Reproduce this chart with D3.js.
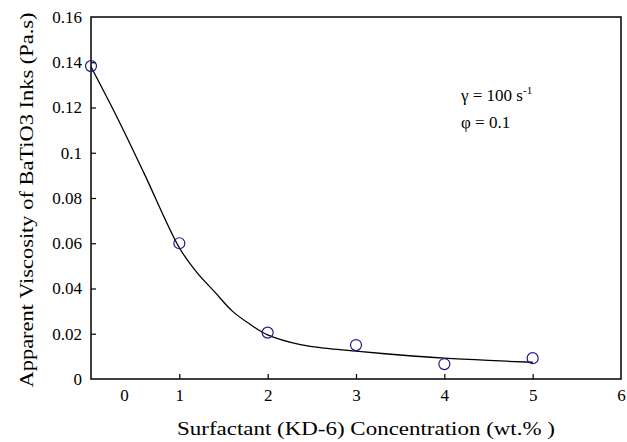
<!DOCTYPE html>
<html lang="en">
<head>
	<meta charset="utf-8">
	<title>viscosity vs surfactant</title>
	<script src="https://d3js.org/d3.v7.min.js"></script>
	<style type="text/css">
		body { margin: 0; background: #fff; }
		.Axis path { display: none; }
		.Axis line { stroke: #000; stroke-width: 1.2; }
	</style>
</head>
<body>
	<svg id="placeholder1"></svg>

	<script type="text/javascript">
		// measured points
		var concentration = [0, 1, 2, 3, 4, 5]
		var viscosity = [0.1383, 0.0600, 0.0205, 0.0150, 0.0066, 0.0092]

		// fitted curve
		var fitX = [0, 0.31, 0.6, 1.0, 1.2, 1.4, 1.6, 1.8, 2.0, 2.37, 2.7, 3.0, 3.5, 4.0, 4.5, 5.0]
		var fitY = [0.138, 0.1145, 0.091, 0.058, 0.047, 0.0385, 0.030, 0.0242, 0.0195, 0.0152, 0.0134, 0.0123, 0.0106, 0.0092, 0.0082, 0.0074]

		var xTicks = [0, 1, 2, 3, 4, 5, 6]
		var yTicks = [0, 0.02, 0.04, 0.06, 0.08, 0.1, 0.12, 0.14, 0.16]

		var xTitle = "Surfactant (KD-6) Concentration (wt.% )"
		var yTitle = "Apparent Viscosity of BaTiO3 Inks (Pa.s)"

		var serif = "'Liberation Serif', 'Times New Roman', serif"
		var navy = "#221a8c"

		var wholeW = 627
		var wholeH = 442
		var margin = {left: 91, right: 6, top: 17, bottom: 63}
		var width = wholeW - margin.left - margin.right
		var height = wholeH - margin.top - margin.bottom

		var xScale = d3.scaleLinear().domain([0, 6]).range([0, width])
		var yScale = d3.scaleLinear().domain([0, 0.16]).range([height, 0])

		var xAxis = d3.axisBottom(xScale).tickValues(xTicks).tickSize(-5).tickPadding(10)
						.tickFormat(d3.format("d"))
		var yAxis = d3.axisLeft(yScale).tickValues(yTicks).tickSize(-5).tickPadding(9)
						.tickFormat(d3.format(".2~f"))

		var svg = d3.select("#placeholder1")
						.attr("width", wholeW)
						.attr("height", wholeH)
					.append("g")
						.attr("transform", "translate(" + margin.left + "," + margin.top + ")")

		// axes
		var gx = svg.append("g")
			.attr("class", "x Axis")
			.attr("transform", "translate(0," + height + ")")
			.call(xAxis)
			.attr("font-family", serif)
			.attr("font-size", 17)
		// the "0" label sits off the axis in the original
		gx.selectAll(".tick").filter(d => d === 0).select("text").attr("dx", 33)
		gx.selectAll(".tick").filter(d => d === 0 || d === 6).select("line").remove()

		var gy = svg.append("g")
			.attr("class", "y Axis")
			.call(yAxis)
			.attr("font-family", serif)
			.attr("font-size", 17)
		gy.selectAll(".tick").filter(d => d === 0 || d === 0.16).select("line").remove()

		// frame
		svg.append("rect")
			.attr("width", width)
			.attr("height", height)
			.attr("fill", "none")
			.attr("stroke", "#000")
			.attr("stroke-width", 1.5)

		// fitted line
		var line = d3.line()
			.curve(d3.curveCatmullRom.alpha(0.5))
			.x((d, i) => xScale(fitX[i]))
			.y(d => yScale(d))

		svg.append("path")
			.attr("d", line(fitY))
			.attr("fill", "none")
			.attr("stroke", "#000")
			.attr("stroke-width", 1.3)

		// points
		svg.selectAll("circle")
			.data(viscosity)
			.join("circle")
				.attr("cx", (d, i) => xScale(concentration[i]))
				.attr("cy", d => yScale(d))
				.attr("r", 5.5)
				.attr("fill", "none")
				.attr("stroke", navy)
				.attr("stroke-width", 1.2)

		// annotation
		var note = svg.append("text")
			.attr("x", 461 - margin.left)
			.attr("y", 101 - margin.top)
			.attr("font-family", serif)
			.attr("font-size", 17)
		note.append("tspan").text("\u03b3 = 100 s")
		note.append("tspan").attr("dy", -7).attr("font-size", 11).text("-1")

		svg.append("text")
			.attr("x", 461 - margin.left)
			.attr("y", 128 - margin.top)
			.attr("font-family", serif)
			.attr("font-size", 17)
			.text("\u03c6 = 0.1")

		// titles
		svg.append("text")
			.attr("x", 366 - margin.left)
			.attr("y", 435 - margin.top)
			.attr("text-anchor", "middle")
			.attr("font-family", serif)
			.attr("font-size", 19)
			.attr("textLength", 378)
			.attr("lengthAdjust", "spacingAndGlyphs")
			.text(xTitle)

		svg.append("text")
			.attr("transform", "translate(" + (33 - margin.left) + "," + (200 - margin.top) + ") rotate(-90)")
			.attr("text-anchor", "middle")
			.attr("font-family", serif)
			.attr("font-size", 19)
			.attr("textLength", 375)
			.attr("lengthAdjust", "spacingAndGlyphs")
			.text(yTitle)
	</script>
</body>
</html>
